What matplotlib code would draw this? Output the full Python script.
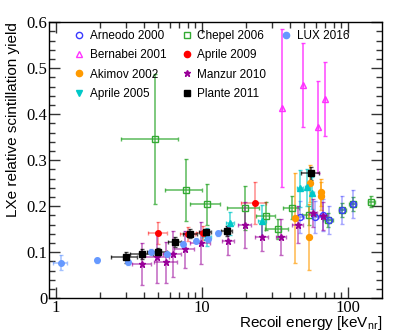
import matplotlib
matplotlib.use("Agg")
from matplotlib import pyplot as plt
from matplotlib.lines import Line2D
from matplotlib.ticker import MultipleLocator, FixedLocator, NullFormatter

# ---- data ----
arneodo_x = [47.0, 59.5, 67.5, 74.0, 91.0, 108.0]
arneodo_y = [0.176, 0.176, 0.180, 0.170, 0.191, 0.204]
arneodo_xerr = [2.5, 3.0, 3.0, 4.0, 4.0, 4.0]
arneodo_yerr = [0.035, 0.035, 0.035, 0.030, 0.030, 0.030]

bernabei_x = [35.3, 49.2, 62.3, 69.6]
bernabei_y = [0.413, 0.463, 0.372, 0.433]
bernabei_xerr = [0.0, 0.0, 0.0, 0.0]
bernabei_yerr = [0.171, 0.091, 0.100, 0.080]

akimov_x = [43.5, 54.0, 55.0, 65.0, 65.5]
akimov_y = [0.174, 0.133, 0.250, 0.230, 0.222]
akimov_xerr = [0.8, 0.8, 1.2, 1.0, 1.0]
akimov_yerr = [0.097, 0.072, 0.040, 0.030, 0.030]

aprile05_x = [10.8, 15.5, 25.7, 47.0, 52.5, 56.5]
aprile05_y = [0.133, 0.163, 0.167, 0.239, 0.241, 0.228]
aprile05_xerr = [0.8, 1.0, 1.5, 2.0, 2.0, 2.0]
aprile05_yerr = [0.020, 0.025, 0.035, 0.040, 0.040, 0.035]

chepel_x = [4.8, 7.8, 10.8, 19.7, 27.4, 33.0, 41.0, 54.0, 73.0, 91.0, 108.0, 144.0]
chepel_y = [0.346, 0.235, 0.204, 0.196, 0.178, 0.151, 0.196, 0.180, 0.170, 0.191, 0.204, 0.210]
chepel_xerr = [2.0, 2.2, 2.5, 4.8, 4.0, 6.0, 5.0, 6.0, 6.0, 5.0, 6.0, 8.0]
chepel_yerr = [0.142, 0.068, 0.045, 0.048, 0.030, 0.022, 0.025, 0.020, 0.015, 0.015, 0.015, 0.012]

aprile09_x = [5.0, 8.0, 10.1, 23.0]
aprile09_y = [0.142, 0.139, 0.141, 0.207]
aprile09_xerr = [0.75, 0.9, 1.0, 4.5]
aprile09_yerr = [0.024, 0.015, 0.015, 0.045]

manzur_x = [3.9, 4.9, 5.7, 6.3, 7.6, 9.8, 15.1, 19.7, 25.7, 34.8, 45.4, 57.6, 67.4]
manzur_y = [0.074, 0.089, 0.078, 0.095, 0.106, 0.120, 0.124, 0.159, 0.133, 0.133, 0.160, 0.185, 0.178]
manzur_xerr = [0.6, 1.0, 1.0, 0.9, 1.2, 1.5, 1.5, 2.0, 2.5, 2.5, 4.0, 4.0, 4.0]
manzur_yerr = [0.045, 0.055, 0.045, 0.050, 0.040, 0.045, 0.030, 0.050, 0.030, 0.040, 0.040, 0.030, 0.030]

plante_x = [3.0, 3.9, 5.0, 6.5, 8.3, 10.6, 14.8, 55.6]
plante_y = [0.089, 0.096, 0.100, 0.122, 0.140, 0.143, 0.146, 0.271]
plante_xerr = [0.6, 0.7, 0.8, 0.65, 0.9, 1.0, 1.3, 8.0]
plante_yerr = [0.012, 0.010, 0.008, 0.010, 0.010, 0.008, 0.010, 0.015]

lux_x = [1.08, 1.92, 3.1, 4.5, 5.8, 7.4, 9.1, 11.0, 12.8]
lux_y = [0.077, 0.082, 0.078, 0.101, 0.096, 0.117, 0.125, 0.128, 0.141]
lux_xerr = [0.12, 0.06, 0.10, 0.10, 0.10, 0.10, 0.10, 0.10, 0.10]
lux_yerr = [0.016, 0.006, 0.005, 0.005, 0.005, 0.005, 0.005, 0.005, 0.005]

# ---- style ----
serif = "Liberation Serif"
sans = "Liberation Sans"

fig = plt.figure(figsize=(4.07, 3.35), dpi=100)
ax = fig.add_axes([0.120, 0.110, 0.819, 0.824])

def draw(x, y, xe, ye, color, marker, ms, filled=True, ealpha=0.6, z=3):
    ax.errorbar(x, y, xerr=xe, yerr=ye, fmt="none", ecolor=color, alpha=ealpha,
                elinewidth=1.1, capsize=1.5, capthick=1.0, zorder=z)
    ax.plot(x, y, linestyle="none", marker=marker, markersize=ms,
            color=color, markerfacecolor=color if filled else "none",
            markeredgewidth=1.0, zorder=z + 0.5)

c_arn = "#3a3aff"
c_ber = "#ff33ff"
c_aki = "#ff9a00"
c_a05 = "#00c8c8"
c_che = "#33aa33"
c_a09 = "#ff0000"
c_man = "#990099"
c_pla = "#000000"
c_lux = "#6699ff"

draw(bernabei_x, bernabei_y, bernabei_xerr, bernabei_yerr, c_ber, "^", 4.5, filled=False, ealpha=0.9)
draw(chepel_x, chepel_y, chepel_xerr, chepel_yerr, c_che, "s", 4.3, filled=False, ealpha=0.8)
draw(arneodo_x, arneodo_y, arneodo_xerr, arneodo_yerr, c_arn, "o", 4.3, filled=False, ealpha=0.45)
draw(akimov_x, akimov_y, akimov_xerr, akimov_yerr, c_aki, "o", 4.3, ealpha=0.7)
draw(aprile05_x, aprile05_y, aprile05_xerr, aprile05_yerr, c_a05, "^", 4.3, ealpha=0.7)
draw(aprile09_x, aprile09_y, aprile09_xerr, aprile09_yerr, c_a09, "o", 4.0, ealpha=0.45)
draw(manzur_x, manzur_y, manzur_xerr, manzur_yerr, c_man, "*", 4.5, ealpha=0.6)
draw(lux_x, lux_y, lux_xerr, lux_yerr, c_lux, "o", 4.0, ealpha=0.6)
draw(plante_x, plante_y, plante_xerr, plante_yerr, c_pla, "s", 4.5, ealpha=0.7)

ax.set_xscale("log")
ax.set_xlim(0.895, 171)
ax.set_ylim(0, 0.6)

ax.xaxis.set_major_locator(FixedLocator([1, 10, 100]))
ax.xaxis.set_minor_locator(FixedLocator([m * d for d in (1, 10, 100) for m in range(2, 10)]))
ax.xaxis.set_minor_formatter(NullFormatter())
ax.set_xticklabels(["1", "10", "100"])
ax.yaxis.set_major_locator(MultipleLocator(0.1))
ax.yaxis.set_minor_locator(MultipleLocator(0.02))
ax.set_yticks([0, 0.1, 0.2, 0.3, 0.4, 0.5, 0.6])
ax.set_yticklabels(["0", "0.1", "0.2", "0.3", "0.4", "0.5", "0.6"])

ax.tick_params(which="both", direction="in", top=True, right=True, width=1.0, colors="#333333")
ax.tick_params(which="major", length=8, labelsize=12, labelcolor="black")
ax.tick_params(which="minor", length=4)
ax.tick_params(axis="x", which="major", pad=1)
ax.tick_params(axis="y", which="major", pad=1)
for lab in ax.get_xticklabels() + ax.get_yticklabels():
    lab.set_fontfamily(serif)
for s in ax.spines.values():
    s.set_linewidth(1.0)

ax.set_xlabel("Recoil energy [keV$_{\\mathregular{nr}}$]", fontfamily=sans, fontsize=11, loc="right", labelpad=-1)
ax.set_ylabel("LXe relative scintillation yield", fontfamily=sans, fontsize=11, loc="top", labelpad=5)

# legend: 4 rows, 3 columns (last column holds LUX only)
def h(color, marker, filled=True):
    return Line2D([], [], linestyle="none", marker=marker, markersize=4.5, color=color,
                  markerfacecolor=color if filled else "none", markeredgewidth=1.0)

blank = Line2D([], [], linestyle="none")
handles = [h(c_arn, "o", False), h(c_ber, "^", False), h(c_aki, "o"), h(c_a05, "v"),
           h(c_che, "s", False), h(c_a09, "o"), h(c_man, "*"), h(c_pla, "s"),
           h(c_lux, "o"), blank, blank, blank]
labels = ["Arneodo 2000", "Bernabei 2001", "Akimov 2002", "Aprile 2005",
          "Chepel 2006", "Aprile 2009", "Manzur 2010", "Plante 2011",
          "LUX 2016", "", "", ""]
ax.legend(handles, labels, ncol=3, frameon=False, loc="upper left",
          bbox_to_anchor=(0.045, 1.01), prop={"family": sans, "size": 8.5},
          handlelength=0.8, handletextpad=0.5, columnspacing=1.3, labelspacing=0.62)

fig.savefig("out.png", dpi=100)
